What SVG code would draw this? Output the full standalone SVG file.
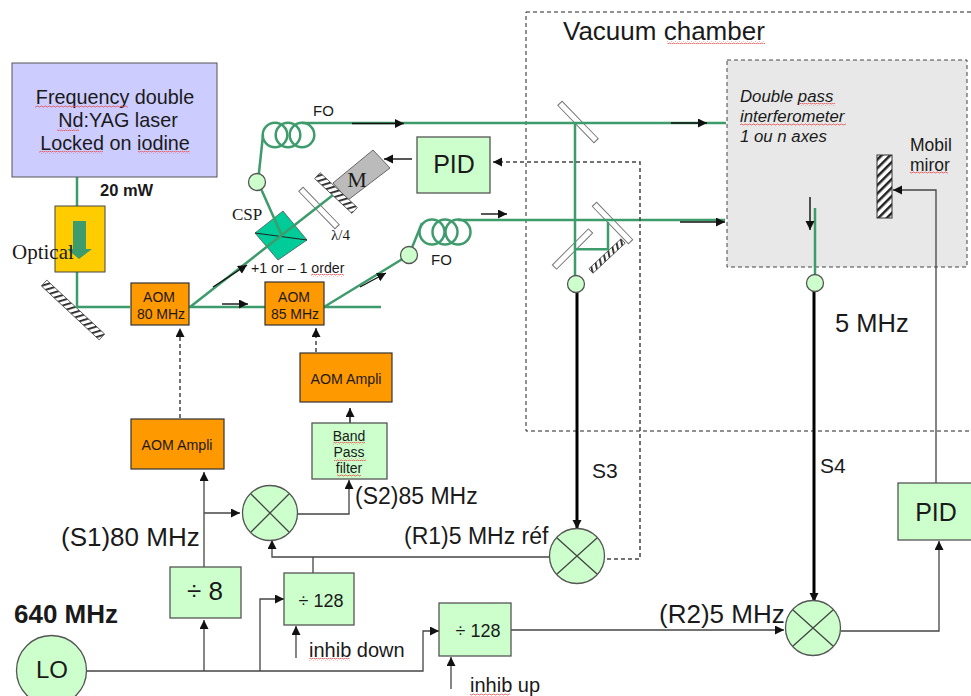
<svg xmlns="http://www.w3.org/2000/svg" width="971" height="696" viewBox="0 0 971 696">
<style>
text{font-family:"Liberation Sans",Arial,sans-serif;fill:#1a1a1a}
.c{text-anchor:middle}
.beam{stroke:#3e9b6c;stroke-width:2.5;fill:none}
.line{stroke:#444;stroke-width:1.3;fill:none}
.dash{stroke:#444;stroke-width:1.5;fill:none;stroke-dasharray:4 3}
.thick{stroke:#000;stroke-width:3;fill:none}
.arr{stroke:#111;stroke-width:1.4;fill:none}
.g{fill:#ccffcc;stroke:#555;stroke-width:1.3}
.o{fill:#ff9900;stroke:#333;stroke-width:1.2}
.m{fill:url(#hatch);stroke:#333;stroke-width:1}
.ms{fill:url(#hatch2);stroke:#444;stroke-width:0.8}
.pl{fill:#fff;stroke:#777;stroke-width:1}
.sq{fill:url(#wavy);stroke:none}
.coil{fill:none;stroke:#3e9b6c;stroke-width:2.5}
</style>
<defs>
<pattern id="hatch" width="6" height="6" patternUnits="userSpaceOnUse" patternTransform="rotate(45)"><rect width="6" height="6" fill="#fff"/><rect width="2.500" height="6" fill="#222"/></pattern>
<pattern id="hatch2" width="5" height="5" patternUnits="userSpaceOnUse" patternTransform="rotate(30)"><rect width="5" height="5" fill="#fff"/><rect width="1.800" height="5" fill="#222"/></pattern>
<pattern id="wavy" width="4" height="3" patternUnits="userSpaceOnUse"><path d="M0 2L1 1L2 1L3 2L4 2" stroke="#e85050" stroke-width="0.8" fill="none"/></pattern>
<marker id="a" markerUnits="userSpaceOnUse" markerWidth="10" markerHeight="10" refX="9" refY="4.500" orient="auto"><path d="M0 0L9 4.500L0 9Z" fill="#111"/></marker>
</defs>

<g id="chamber">
<rect x="526" y="12" width="460" height="419" fill="none" stroke="#222" stroke-width="1" stroke-dasharray="4 3"/>
<text x="563" y="40" font-size="26">Vacuum chamber</text>
<rect class="sq" x="667" y="41" width="98" height="3"/>
</g>
<g id="interferometer">
<rect x="727" y="60" width="240" height="207" fill="#e8e8e8" stroke="#444" stroke-width="1" stroke-dasharray="4 3"/>
<g font-size="16.800" font-style="italic"><text x="740" y="102">Double pass</text><text x="740" y="122">interferometer</text><text x="740" y="142">1 ou n axes</text></g>
<rect class="sq" x="799" y="103" width="36" height="3"/><rect class="sq" x="740" y="123" width="106" height="3"/>
<rect class="m" x="877" y="155" width="15" height="63"/>
<text x="910" y="151" font-size="17.500">Mobil</text><text x="910" y="171" font-size="17.500">miror</text>
<rect class="sq" x="910" y="171" width="38" height="3"/>
</g>

<g id="mirror1"><rect class="ms" x="33.500" y="306" width="79" height="8" transform="rotate(43 73 310)"/></g>
<g id="bs1"><rect class="pl" x="552" y="119" width="52" height="6" transform="rotate(46 578 122)"/></g>
<g id="bs2"><rect class="pl" x="547" y="246" width="51" height="6" transform="rotate(-45 572.500 249)"/></g>
<g id="mirror2"><rect class="pl" x="586.500" y="220" width="52" height="6" transform="rotate(46 612.500 223)"/><rect class="ms" x="585" y="253" width="44" height="6" transform="rotate(-43 607 256)"/></g>
<g id="csp"><path d="M255 233L283 211L307 240L278 260Z" fill="#00cc99" stroke="#555" stroke-width="0.8"/><path d="M255 233L307 240" stroke="#222" fill="none"/>
<text x="232" y="220" font-size="17" style="font-family:'Liberation Serif',serif">CSP</text></g>
<g id="waveplate"><rect class="pl" x="293" y="205" width="52" height="6" transform="rotate(46 319 208)"/><text x="331" y="240" font-size="15" style="font-family:'Liberation Serif',serif">λ/4</text></g>
<g id="modulator"><path d="M333 183L373 150L390 168L348 200Z" fill="#bbbbbb" stroke="#666"/><rect class="ms" x="310.500" y="189" width="51" height="8" transform="rotate(43 336 193)"/><text class="c" x="357" y="187" font-size="22" style="font-family:'Liberation Serif',serif">M</text></g>

<g id="connectors">
<path class="beam" d="M77 177V307H130M189 307H265M190 307L333 195M324 307H381M324 307L409 255M302 123H726M575 123V283M458 220H725M575 249.300H608V222M815 208V283M263 135L258 182L282 236M422 223L409 255"/>
<path class="thick" d="M577 292V529" marker-end="url(#a)"/>
<path class="thick" d="M814 292V602" marker-end="url(#a)"/>
<path class="arr" d="M213 287L247 265" marker-end="url(#a)"/>
<path class="arr" d="M222 304H248" marker-end="url(#a)"/>
<path class="arr" d="M360 287L386 273" marker-end="url(#a)"/>
<path class="arr" d="M352 123.500H404" marker-end="url(#a)"/>
<path class="arr" d="M481 214H507" marker-end="url(#a)"/>
<path class="arr" d="M671 123H707" marker-end="url(#a)"/>
<path class="arr" d="M680 222H725" marker-end="url(#a)"/>
<path class="arr" d="M810 197V230" marker-end="url(#a)"/>
<path class="arr" d="M412 159H384" marker-end="url(#a)"/>
<path class="line" d="M936 483V190H893" marker-end="url(#a)"/>
<path class="dash" d="M180 418V328" marker-end="url(#a)"/>
<path class="dash" d="M316 352V328" marker-end="url(#a)"/>
<path class="arr" d="M350 423V408" marker-end="url(#a)"/>
<path class="dash" d="M607 559H640V162H493" marker-end="url(#a)"/>
<path class="line" d="M204 567V472" marker-end="url(#a)"/>
<path class="line" d="M204 513H240" marker-end="url(#a)"/>
<path class="line" d="M298 514H349V480" marker-end="url(#a)"/>
<path class="line" d="M549 557H272V540" marker-end="url(#a)"/>
<path class="line" d="M313 573V557"/>
<path class="line" d="M86 671H423V631H439" marker-end="url(#a)"/>
<path class="line" d="M204 671V620" marker-end="url(#a)"/>
<path class="line" d="M260 671V599H284" marker-end="url(#a)"/>
<path class="line" d="M296 658V626" marker-end="url(#a)"/>
<path class="line" d="M451 689V657" marker-end="url(#a)"/>
<path class="line" d="M511 630H784" marker-end="url(#a)"/>
<path class="line" d="M841 631H939V541" marker-end="url(#a)"/>
</g>

<g id="laser"><rect x="12" y="63" width="205" height="114" fill="#ccccff" stroke="#555" stroke-width="1"/>
<text class="c" x="115" y="104" font-size="19.800">Frequency double</text><text class="c" x="118" y="127" font-size="19.800">Nd:YAG laser</text><text class="c" x="115" y="150" font-size="19.800">Locked on iodine</text>
<rect class="sq" x="35" y="105" width="93" height="3"/><rect class="sq" x="57" y="128" width="22" height="3"/><rect class="sq" x="39" y="151" width="64" height="3"/><rect class="sq" x="138" y="151" width="52" height="3"/>
<text x="100" y="196" font-size="16.500" font-weight="bold">20 mW</text></g>

<g id="isolator"><rect x="55" y="206" width="50" height="66" fill="#ffcc00" stroke="#444" stroke-width="1"/>
<path d="M73 221H86V249H92L79 259L67 249H73Z" fill="#3e9b6c"/>
<text x="12" y="259" font-size="21" style="font-family:'Liberation Serif',serif">Optical</text></g>

<g id="aom80"><rect class="o" x="131" y="283" width="58" height="42"/><text class="c" x="159" y="302" font-size="14">AOM</text><text class="c" x="161" y="319" font-size="14">80 MHz</text></g>
<g id="aom85"><rect class="o" x="265" y="282" width="59" height="43"/><text class="c" x="294" y="302" font-size="14">AOM</text><text class="c" x="295" y="319" font-size="14">85 MHz</text></g>
<g id="ampli1"><rect class="o" x="131" y="419" width="93" height="50"/><text class="c" x="177" y="450" font-size="14.200">AOM Ampli</text></g>
<g id="ampli2"><rect class="o" x="300" y="353" width="92" height="49"/><text class="c" x="346" y="384" font-size="14.200">AOM Ampli</text></g>
<g id="bandpass"><rect class="g" x="312" y="423" width="75" height="56"/><text class="c" x="349" y="441" font-size="14">Band</text><text class="c" x="349" y="457" font-size="14">Pass</text><text class="c" x="349" y="473" font-size="14">filter</text>
<rect class="sq" x="333" y="442" width="32" height="3"/><rect class="sq" x="334" y="458" width="32" height="3"/><rect class="sq" x="337" y="474" width="24" height="3"/></g>

<g id="fiber1"><circle class="coil" cx="275" cy="135" r="12.300"/><circle class="coil" cx="288" cy="135" r="12.300"/><circle class="coil" cx="302" cy="135" r="12.300"/><circle class="g" cx="257" cy="182" r="8.500"/><text x="313" y="116" font-size="15">FO</text></g>
<g id="fiber2"><circle class="coil" cx="432" cy="232" r="12.500"/><circle class="coil" cx="445" cy="232" r="12.500"/><circle class="coil" cx="458" cy="232" r="12.500"/><circle class="g" cx="409" cy="255" r="8.500"/><text x="431" y="265" font-size="15">FO</text></g>

<text x="251" y="273" font-size="14.200">+1 or – 1 order</text><rect class="sq" x="311" y="274" width="33" height="3"/>

<g id="pid1"><rect class="g" x="417" y="137" width="73" height="56"/><text class="c" x="454" y="173" font-size="25">PID</text></g>
<g id="det1"><circle class="g" cx="576" cy="284" r="8.500"/></g>
<g id="det2"><circle class="g" cx="815" cy="283" r="8.500"/></g>
<text x="835" y="332" font-size="25.500">5 MHz</text>
<text x="592" y="478" font-size="21">S3</text><text x="820" y="473" font-size="21">S4</text>

<g id="mix1"><circle class="g" cx="270" cy="513" r="27.500"/><path class="line" d="M251 494L289 532M289 494L251 532"/></g>
<g id="mix2"><circle class="g" cx="577" cy="556" r="27.500"/><path class="line" d="M557 538L597 574M597 538L557 574"/></g>
<g id="mix3"><circle class="g" cx="813" cy="628" r="27.500"/><path class="line" d="M793 610L833 646M833 610L793 646"/></g>
<g id="div8"><rect class="g" x="170" y="567" width="71" height="51"/><text class="c" x="205" y="600" font-size="26">÷ 8</text></g>
<g id="div128a"><rect class="g" x="284" y="573" width="70" height="52"/><text class="c" x="321" y="607" font-size="18">÷ 128</text></g>
<g id="div128b"><rect class="g" x="439" y="603" width="72" height="53"/><text class="c" x="478" y="637" font-size="18">÷ 128</text></g>
<g id="lo"><circle class="g" cx="51.500" cy="670.500" r="35"/><text class="c" x="52" y="678" font-size="24">LO</text></g>
<g id="pid2"><rect class="g" x="898" y="483" width="74" height="57"/><text class="c" x="936" y="521" font-size="25">PID</text></g>

<g id="labels">
<text x="14" y="623" font-size="26" font-weight="bold">640 MHz</text>
<text x="61" y="546" font-size="26">(S1)80 MHz</text>
<text x="355" y="504" font-size="23">(S2)85 MHz</text>
<text x="404" y="544" font-size="23">(R1)5 MHz réf</text>
<text x="659" y="623" font-size="26">(R2)5 MHz</text>
<text x="309" y="657" font-size="20">inhib down</text><rect class="sq" x="309" y="658" width="41" height="3"/>
<text x="470" y="692" font-size="20">inhib up</text><rect class="sq" x="470" y="693" width="40" height="3"/>
</g>
</svg>
